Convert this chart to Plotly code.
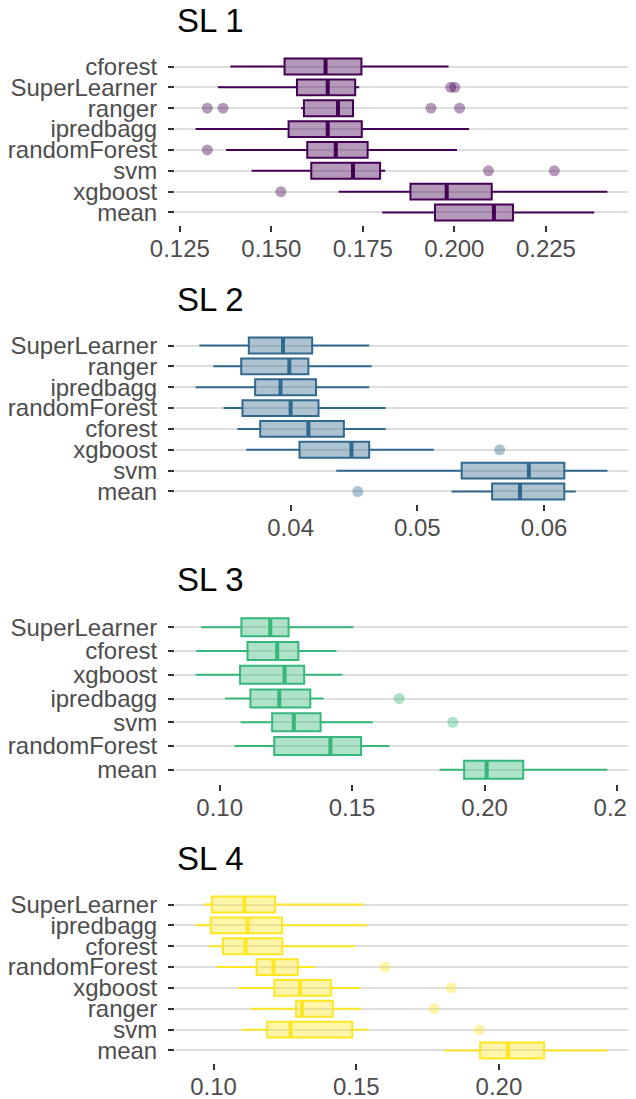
import plotly.graph_objects as go

# ---------------- data ----------------
# SL 1
sl1_learners = ["cforest", "SuperLearner", "ranger", "ipredbagg", "randomForest", "svm", "xgboost", "mean"]
sl1_low = [0.1388, 0.1354, 0.1581, 0.1293, 0.1376, 0.1446, 0.1684, 0.1803]
sl1_q1 = [0.1536, 0.1570, 0.1589, 0.1547, 0.1598, 0.1609, 0.1880, 0.1947]
sl1_med = [0.1648, 0.1654, 0.1682, 0.1654, 0.1676, 0.1723, 0.1979, 0.2108]
sl1_q3 = [0.1746, 0.1729, 0.1723, 0.1747, 0.1763, 0.1797, 0.2102, 0.2160]
sl1_high = [0.1984, 0.1740, 0.1726, 0.2040, 0.2007, 0.1811, 0.2418, 0.2382]
sl1_out = [[], [0.1990, 0.2001], [0.1325, 0.1368, 0.1936, 0.2014], [], [0.1325], [0.2093, 0.2273], [0.1526], []]
sl1_ticks = [0.125, 0.150, 0.175, 0.200, 0.225]
sl1_ticktext = ["0.125", "0.150", "0.175", "0.200", "0.225"]

# SL 2
sl2_learners = ["SuperLearner", "ranger", "ipredbagg", "randomForest", "cforest", "xgboost", "svm", "mean"]
sl2_low = [0.0328, 0.0339, 0.0325, 0.0347, 0.0358, 0.0365, 0.0436, 0.0527]
sl2_q1 = [0.0367, 0.0361, 0.0372, 0.0362, 0.0376, 0.0407, 0.0535, 0.0559]
sl2_med = [0.0394, 0.0399, 0.0392, 0.0400, 0.0414, 0.0448, 0.0588, 0.0581]
sl2_q3 = [0.0417, 0.0414, 0.0420, 0.0422, 0.0442, 0.0462, 0.0616, 0.0616]
sl2_high = [0.0462, 0.0464, 0.0462, 0.0475, 0.0475, 0.0513, 0.0650, 0.0625]
sl2_out = [[], [], [], [], [], [0.0565], [], [0.0453]]
sl2_ticks = [0.04, 0.05, 0.06]
sl2_ticktext = ["0.04", "0.05", "0.06"]

# SL 3
sl3_learners = ["SuperLearner", "cforest", "xgboost", "ipredbagg", "svm", "randomForest", "mean"]
sl3_low = [0.0930, 0.0912, 0.0909, 0.1020, 0.1079, 0.1056, 0.1830]
sl3_q1 = [0.1082, 0.1105, 0.1077, 0.1116, 0.1198, 0.1206, 0.1923]
sl3_med = [0.1191, 0.1217, 0.1245, 0.1225, 0.1280, 0.1418, 0.2008]
sl3_q3 = [0.1260, 0.1297, 0.1319, 0.1342, 0.1381, 0.1534, 0.2146]
sl3_high = [0.1505, 0.1441, 0.1463, 0.1392, 0.1578, 0.1640, 0.2464]
sl3_out = [[], [], [], [0.1678], [0.1880], [], []]
sl3_ticks = [0.10, 0.15, 0.20, 0.25]
sl3_ticktext = ["0.10", "0.15", "0.20", "0.25"]

# SL 4
sl4_learners = ["SuperLearner", "ipredbagg", "cforest", "randomForest", "xgboost", "ranger", "svm", "mean"]
sl4_low = [0.0966, 0.0937, 0.0983, 0.1011, 0.1086, 0.1129, 0.1098, 0.1809]
sl4_q1 = [0.0994, 0.0990, 0.1033, 0.1151, 0.1213, 0.1289, 0.1188, 0.1934]
sl4_med = [0.1108, 0.1119, 0.1112, 0.1210, 0.1303, 0.1310, 0.1270, 0.2032]
sl4_q3 = [0.1216, 0.1240, 0.1241, 0.1295, 0.1411, 0.1418, 0.1486, 0.2158]
sl4_high = [0.1526, 0.1540, 0.1497, 0.1356, 0.1514, 0.1517, 0.1543, 0.2380]
sl4_out = [[], [], [], [0.1601], [0.1833], [0.1773], [0.1931], []]
sl4_ticks = [0.10, 0.15, 0.20]
sl4_ticktext = ["0.10", "0.15", "0.20"]

panel_titles = ["SL 1", "SL 2", "SL 3", "SL 4"]
panel_colors = ["#440154", "#31688E", "#35B779", "#FDE725"]

panels = [
    (sl1_learners, sl1_low, sl1_q1, sl1_med, sl1_q3, sl1_high, sl1_out, sl1_ticks, sl1_ticktext),
    (sl2_learners, sl2_low, sl2_q1, sl2_med, sl2_q3, sl2_high, sl2_out, sl2_ticks, sl2_ticktext),
    (sl3_learners, sl3_low, sl3_q1, sl3_med, sl3_q3, sl3_high, sl3_out, sl3_ticks, sl3_ticktext),
    (sl4_learners, sl4_low, sl4_q1, sl4_med, sl4_q3, sl4_high, sl4_out, sl4_ticks, sl4_ticktext),
]

# ---------------- layout constants ----------------
# the page body has an 8px margin, so the figure is sized/placed to compensate
W, H = 628, 1091
panel_tops = [46, 325, 605, 884]   # px from top of the figure
panel_h = 171
BOX_W = 0.76


def rgba(hx, a):
    hx = hx.lstrip("#")
    r, g, b = int(hx[0:2], 16), int(hx[2:4], 16), int(hx[4:6], 16)
    return f"rgba({r},{g},{b},{a})"


fig = go.Figure()
layout = dict(
    width=W, height=H,
    margin=dict(l=167, r=8, t=0, b=0),
    paper_bgcolor="white", plot_bgcolor="white",
    showlegend=False,
    font=dict(family="Liberation Sans, Arial, sans-serif"),
    annotations=[],
)

for k, (learners, low, q1, med, q3, high, outs, ticks, ticktext) in enumerate(panels):
    n = len(learners)
    pos = [n - 1 - i for i in range(n)]
    col = panel_colors[k]
    xa = "x" if k == 0 else f"x{k+1}"
    ya = "y" if k == 0 else f"y{k+1}"

    fig.add_trace(go.Box(
        orientation="h", y=pos, q1=q1, median=med, q3=q3,
        lowerfence=low, upperfence=high,
        width=BOX_W, whiskerwidth=0,
        fillcolor=rgba(col, 0.4), line=dict(color=col, width=2),
        boxpoints=False, xaxis=xa, yaxis=ya, hoverinfo="skip",
    ))
    # thicker median segments (ggplot style)
    mx, my = [], []
    for p, m in zip(pos, med):
        mx += [m, m, None]
        my += [p - BOX_W / 2, p + BOX_W / 2, None]
    fig.add_trace(go.Scatter(x=mx, y=my, mode="lines",
                             line=dict(color=col, width=4),
                             xaxis=xa, yaxis=ya, hoverinfo="skip"))
    # outliers
    ox, oy = [], []
    for p, o in zip(pos, outs):
        for v in o:
            ox.append(v)
            oy.append(p)
    if ox:
        fig.add_trace(go.Scatter(x=ox, y=oy, mode="markers",
                                 marker=dict(color=rgba(col, 0.4), size=11, line=dict(width=0)),
                                 xaxis=xa, yaxis=ya, hoverinfo="skip"))

    allv = low + high + [v for o in outs for v in o]
    lo, hi = min(allv), max(allv)
    pad = (hi - lo) * 0.05
    top = panel_tops[k]
    dom = [1 - (top + panel_h) / H, 1 - top / H]

    layout["xaxis" if k == 0 else f"xaxis{k+1}"] = dict(
        domain=[0, 1], anchor=ya, range=[lo - pad, hi + pad],
        tickvals=ticks, ticktext=ticktext,
        showgrid=False, zeroline=False, showline=False,
        ticks="outside", ticklen=6, tickwidth=2, tickcolor="#333333",
        tickfont=dict(size=24, color="#4D4D4D"), ticklabelstandoff=-4,
        ticklabeloverflow="allow",
        automargin=False, fixedrange=True,
    )
    layout["yaxis" if k == 0 else f"yaxis{k+1}"] = dict(
        domain=dom, anchor=xa, range=[-0.6, n - 0.4],
        tickvals=pos, ticktext=learners,
        showgrid=True, gridcolor="#DEDEDE", gridwidth=2,
        zeroline=False, showline=False,
        ticks="outside", ticklen=6, tickwidth=2, tickcolor="#333333",
        tickfont=dict(size=24, color="#4D4D4D"), ticklabelstandoff=6,
        automargin=False, fixedrange=True,
    )
    layout["annotations"].append(dict(
        text=panel_titles[k], xref="paper", yref="paper",
        x=0, xanchor="left", y=1 - (top - 34) / H, yanchor="middle",
        showarrow=False, font=dict(size=33, color="black"),
    ))

fig.update_layout(**layout)
fig.write_html("out.html")
